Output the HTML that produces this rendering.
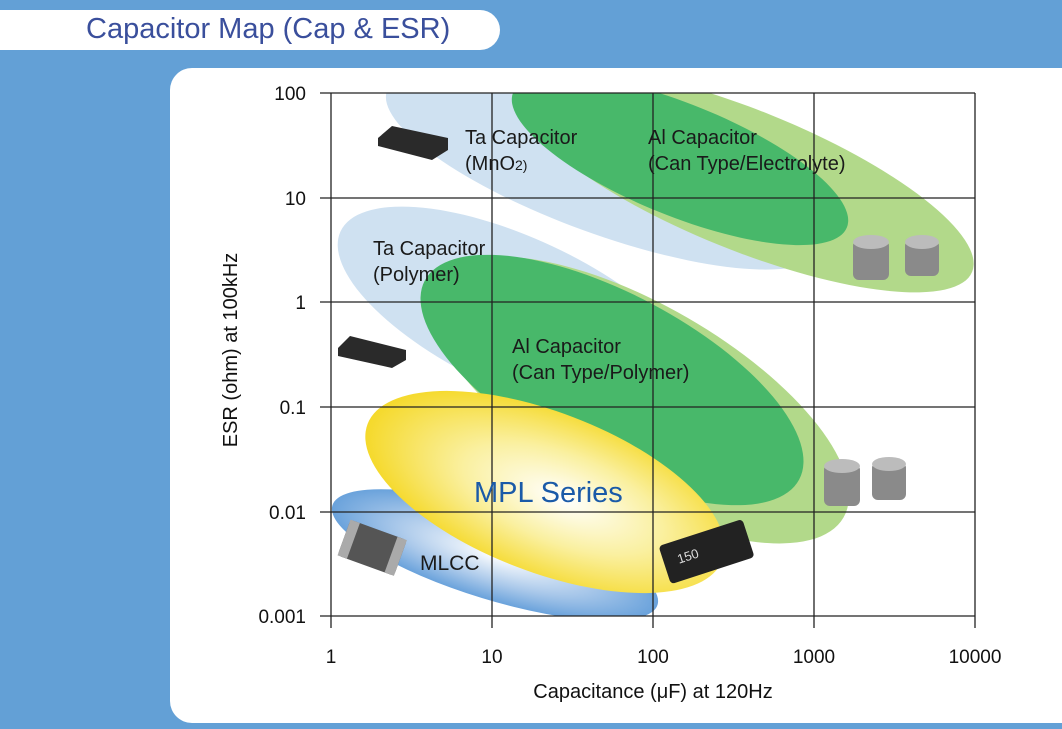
<!DOCTYPE html>
<html><head><style>
body{margin:0;width:1062px;height:729px;background:#63a0d6;overflow:hidden;font-family:"Liberation Sans",sans-serif;position:relative}
.hdr{position:absolute;left:-20px;top:10px;width:520px;height:40px;background:#fff;border-radius:20px}
.hdr span{position:absolute;left:106px;top:3px;font-size:29px;color:#3a4f9c}
.panel{position:absolute;left:170px;top:68px;width:920px;height:655px;background:#fff;border-radius:22px}
svg{position:absolute;left:0;top:0}
</style></head><body>
<div class="hdr"><span>Capacitor Map (Cap &amp; ESR)</span></div>
<div class="panel"></div>
<svg width="1062" height="729" font-family="Liberation Sans, sans-serif">
<defs>
<radialGradient id="yg" cx="0.55" cy="0.5" r="0.55"><stop offset="0" stop-color="#fff"/><stop offset="0.5" stop-color="#faf0a0"/><stop offset="1" stop-color="#f5d92a"/></radialGradient>
<radialGradient id="bg" cx="0.5" cy="0.5" r="0.6"><stop offset="0" stop-color="#fff"/><stop offset="0.5" stop-color="#a9c8ea"/><stop offset="1" stop-color="#4a8fd4"/></radialGradient>
<clipPath id="cp"><rect x="331" y="93" width="644" height="523"/></clipPath>
</defs>
<g clip-path="url(#cp)">
<ellipse cx="605" cy="170" rx="232" ry="64" transform="rotate(20 605 170)" fill="#cfe1f1"/>
<ellipse cx="745" cy="180" rx="245" ry="70" transform="rotate(22 745 180)" fill="#b2d98a"/>
<ellipse cx="680" cy="160" rx="180" ry="56" transform="rotate(22 680 160)" fill="#48b86a"/>
<ellipse cx="520" cy="315" rx="198" ry="76" transform="rotate(25 520 315)" fill="#cfe1f1"/>
<ellipse cx="640" cy="400" rx="235" ry="95" transform="rotate(30 640 400)" fill="#b2d98a"/>
<ellipse cx="612" cy="380" rx="212" ry="86" transform="rotate(28 612 380)" fill="#48b86a"/>
<ellipse cx="495" cy="555" rx="170" ry="45" transform="rotate(17 495 555)" fill="url(#bg)"/>
<ellipse cx="545" cy="492" rx="190" ry="80" transform="rotate(21 545 492)" fill="url(#yg)"/>
</g>
<g stroke="#222" stroke-width="1.3">
<line x1="320" y1="93" x2="975" y2="93"/><line x1="320" y1="198" x2="975" y2="198"/><line x1="320" y1="302" x2="975" y2="302"/><line x1="320" y1="407" x2="975" y2="407"/><line x1="320" y1="512" x2="975" y2="512"/><line x1="320" y1="616" x2="975" y2="616"/>
<line x1="331" y1="93" x2="331" y2="628"/><line x1="492" y1="93" x2="492" y2="628"/><line x1="653" y1="93" x2="653" y2="628"/><line x1="814" y1="93" x2="814" y2="628"/><line x1="975" y1="93" x2="975" y2="628"/>
</g>
<g font-size="19" fill="#111" text-anchor="end">
<text x="306" y="100">100</text><text x="306" y="205">10</text><text x="306" y="309">1</text><text x="306" y="414">0.1</text><text x="306" y="519">0.01</text><text x="306" y="623">0.001</text>
</g>
<g font-size="19" fill="#111" text-anchor="middle">
<text x="331" y="663">1</text><text x="492" y="663">10</text><text x="653" y="663">100</text><text x="814" y="663">1000</text><text x="975" y="663">10000</text>
<text x="653" y="698" font-size="20">Capacitance (μF) at 120Hz</text>
<text transform="translate(237 350) rotate(-90)" font-size="20">ESR (ohm) at 100kHz</text>
</g>
<g font-size="20" fill="#1a1a1a">
<text x="465" y="144">Ta Capacitor</text><text x="465" y="170">(MnO<tspan font-size="14">2)</tspan></text>
<text x="648" y="144">Al Capacitor</text><text x="648" y="170">(Can Type/Electrolyte)</text>
<text x="373" y="255">Ta Capacitor</text><text x="373" y="281">(Polymer)</text>
<text x="512" y="353">Al Capacitor</text><text x="512" y="379">(Can Type/Polymer)</text>
<text x="420" y="570" font-size="21">MLCC</text>
</g>
<text x="474" y="502" font-size="29" fill="#1a5aa8">MPL Series</text>
<polygon points="378,138 392,126 448,138 448,150 432,160 378,146" fill="#2a2a2a"/>
<polygon points="338,348 350,336 406,350 406,360 392,368 338,356" fill="#2a2a2a"/>
<g transform="rotate(20 370 548)"><rect x="342" y="528" width="60" height="38" rx="4" fill="#555"/><rect x="342" y="528" width="10" height="38" fill="#aaa"/><rect x="392" y="528" width="10" height="38" fill="#aaa"/></g>
<g transform="rotate(-18 705 550)"><rect x="662" y="532" width="88" height="40" rx="4" fill="#222"/><text x="676" y="555" font-size="13" fill="#ddd">150</text></g>
<g fill="#8a8a8a"><rect x="853" y="240" width="36" height="40" rx="6"/><rect x="905" y="240" width="34" height="36" rx="6"/><rect x="824" y="464" width="36" height="42" rx="6"/><rect x="872" y="462" width="34" height="38" rx="6"/></g>
<g fill="#bcbcbc"><ellipse cx="871" cy="242" rx="18" ry="7"/><ellipse cx="922" cy="242" rx="17" ry="7"/><ellipse cx="842" cy="466" rx="18" ry="7"/><ellipse cx="889" cy="464" rx="17" ry="7"/></g>
</svg>
</body></html>
